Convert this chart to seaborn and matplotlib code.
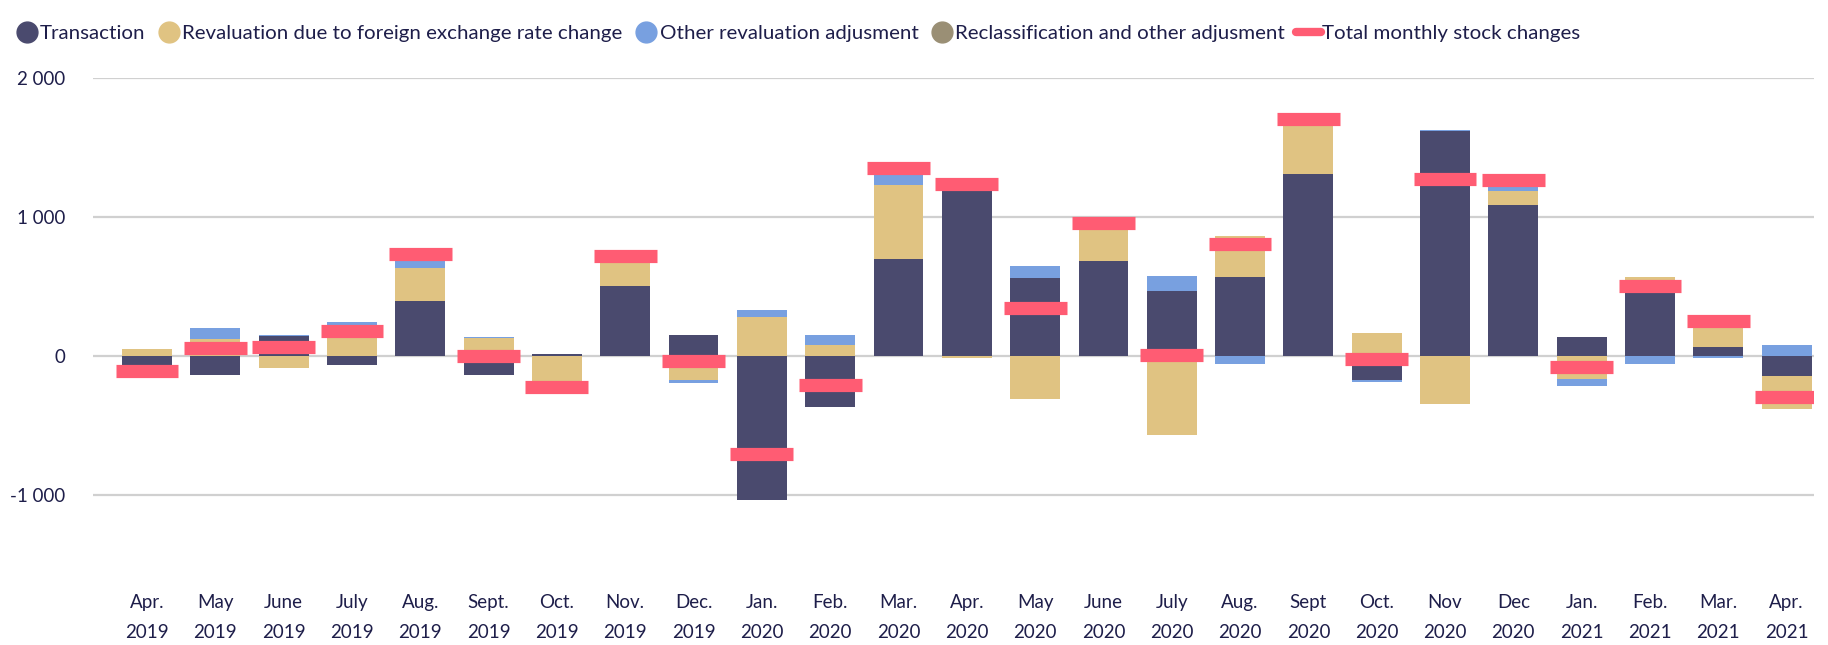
import numpy as np
import pandas as pd
import matplotlib
matplotlib.use("Agg")
import matplotlib.pyplot as plt
from matplotlib.lines import Line2D
from matplotlib.ticker import FuncFormatter
import seaborn as sns

# ======================
# Data
# ======================

months = ["Apr.", "May", "June", "July", "Aug.", "Sept.", "Oct.", "Nov.", "Dec.",
          "Jan.", "Feb.", "Mar.", "Apr.", "May", "June", "July", "Aug.", "Sept",
          "Oct.", "Nov", "Dec", "Jan.", "Feb.", "Mar.", "Apr."]
years = ["2019"] * 9 + ["2020"] * 12 + ["2021"] * 4

transaction = [-153, -137, 145, -65, 396, -137, 10, 502, 149, -1039, -370, 696,
               1245, 559, 682, 466, 566, 1308, -175, 1620, 1085, 134, 480, 62, -146]
revaluation_fx = [48, 120, -86, 160, 235, 130, -235, 213, -175, 278, 77, 533,
                  -14, -312, 260, -571, 295, 394, 163, -346, 101, -168, 86, 204, -238]
other_reval = [-5, 80, 7, 82, 101, 7, 3, 0, -19, 50, 72, 110,
               0, 86, 10, 108, -58, 0, -14, 5, 70, -50, -58, -14, 77]
reclassification = [0] * 25
total_changes = [-110, 58, 62, 180, 732, -5, -223, 715, -41, -710, -214, 1351,
                 1234, 341, 953, 7, 802, 1702, -24, 1272, 1262, -82, 504, 252, -300]

series_names = ["Transaction", "Revaluation due to foreign exchange rate change",
                "Other revaluation adjusment", "Reclassification and other adjusment"]
series_values = [transaction, revaluation_fx, other_reval, reclassification]
series_colors = ["#4A4A6E", "#E0C382", "#78A0E0", "#9A8F75"]
total_color = "#FF5C73"
text_color = "#1E1E4A"

labels = [m + "\n" + y for m, y in zip(months, years)]

# ======================
# Figure
# ======================

sns.set_style("white")
plt.rcParams["font.family"] = ["Lato", "DejaVu Sans"]

fig = plt.figure(figsize=(18.28, 6.45), dpi=100)
ax = fig.add_axes([0.0509, 0.130, 0.9414, 0.749])

pos = np.zeros(len(labels))
neg = np.zeros(len(labels))

for name, vals, col in zip(series_names, series_values, series_colors):
    v = np.array(vals, dtype=float)
    bottom = np.where(v >= 0, pos, neg)
    df = pd.DataFrame({"month": labels, "value": v})
    sns.barplot(
        data=df, x="month", y="value", order=labels,
        color=col, saturation=1, errorbar=None,
        width=0.73, linewidth=0, bottom=bottom, ax=ax, zorder=3
    )
    pos = pos + np.where(v > 0, v, 0)
    neg = neg + np.where(v < 0, v, 0)

xs = np.arange(len(labels))
ax.hlines(total_changes, xs - 0.46, xs + 0.46, colors=total_color,
          linewidth=9.5, capstyle="butt", zorder=5)

# ======================
# Axes styling
# ======================

ax.set_xlim(-0.79, 24.4)
ax.set_ylim(-1480, 2000)
ax.set_yticks([-1000, 0, 1000, 2000])
ax.yaxis.set_major_formatter(
    FuncFormatter(lambda v, p: f"{int(v):,}".replace(",", " ")))
ax.grid(axis="y", color="#D0D0D0", linewidth=1.6, zorder=0)
ax.set_axisbelow(True)
for s in ax.spines.values():
    s.set_visible(False)
ax.set_xlabel("")
ax.set_ylabel("")
ax.tick_params(axis="both", length=0, colors=text_color, labelsize=13.5)
ax.tick_params(axis="x", pad=24)
ax.tick_params(axis="y", pad=20)
ax.set_xticks(xs)
ax.set_xticklabels(labels, linespacing=1.9)

# ======================
# Legend
# ======================

handles = [Line2D([0], [0], marker="o", linestyle="none", markersize=15,
                  markerfacecolor=c, markeredgecolor=c) for c in series_colors]
handles.append(Line2D([0], [0], color=total_color, linewidth=6))
fig.legend(
    handles, series_names + ["Total monthly stock changes"],
    loc="upper left", bbox_to_anchor=(-0.005, 0.998), ncol=5, frameon=False,
    handletextpad=0.05, columnspacing=0.55, handlelength=1.2,
    fontsize=14.75, labelcolor=text_color, borderaxespad=0.75
)

plt.savefig("out.png", dpi=100)
plt.close()
